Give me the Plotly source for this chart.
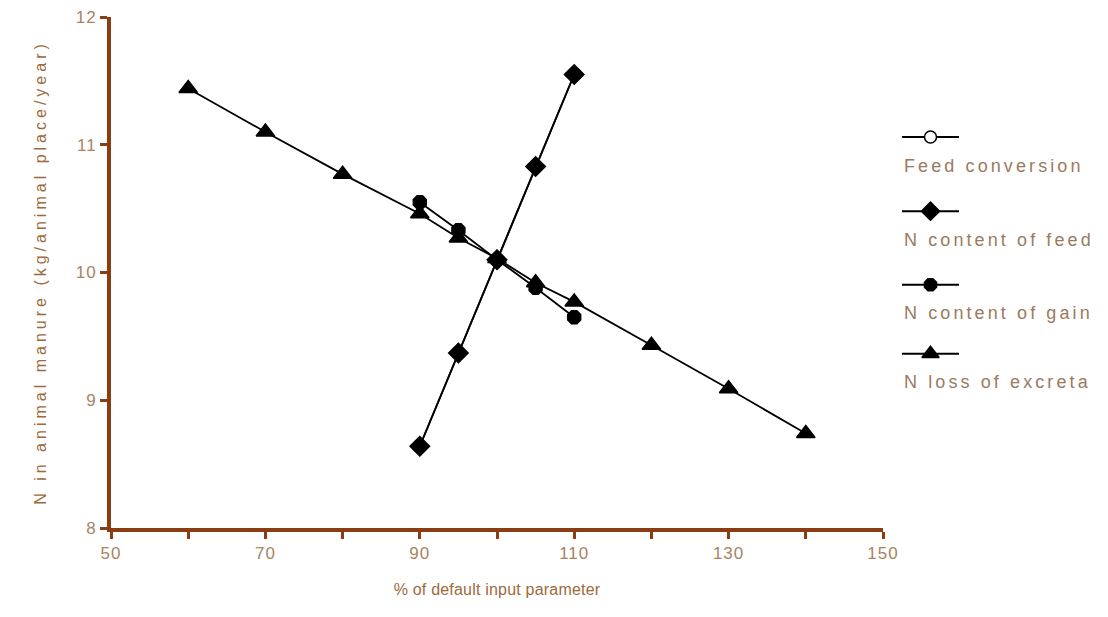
import plotly.graph_objects as go

# ---- data ----
x_short = [90, 95, 100, 105, 110]
feed_conversion = [8.64, 9.37, 10.10, 10.83, 11.55]
n_content_feed = [8.64, 9.37, 10.10, 10.83, 11.55]
n_content_gain = [10.55, 10.33, 10.10, 9.88, 9.65]
x_loss = [60, 70, 80, 90, 95, 100, 105, 110, 120, 130, 140]
n_loss_excreta = [11.44, 11.10, 10.77, 10.46, 10.27, 10.11, 9.92, 9.77, 9.43, 9.09, 8.74]

series_names = ["Feed conversion", "N content of feed", "N content of gain", "N loss of excreta"]
x_ticks = [50, 70, 90, 110, 130, 150]
y_ticks = [8, 9, 10, 11, 12]

AXIS = "#8a3c12"
TICKTXT = "#a98362"
TITLETXT = "#9c6a3c"
LEGTXT = "#9a7a60"
FONT = "Liberation Sans, Arial, sans-serif"


def spaced(text, px):
    return f'<span style="letter-spacing:{px}px">{text}</span>'


symbols = ["circle", "diamond", "octagon", "triangle-up"]
fills = ["white", "black", "black", "black"]
sizes = [13, 15, 14, 16]

fig = go.Figure()
data = [
    (x_short, feed_conversion),
    (x_short, n_content_feed),
    (x_short, n_content_gain),
    (x_loss, n_loss_excreta),
]
for (xs, ys), name, sym, fc, sz in zip(data, series_names, symbols, fills, sizes):
    fig.add_trace(go.Scatter(
        x=xs, y=ys, name=name, mode="lines+markers",
        line=dict(color="black", width=1.8),
        marker=dict(symbol=sym, size=sz, color=fc, line=dict(color="black", width=1.5)),
        showlegend=False, cliponaxis=False,
    ))

# ---- custom legend (symbol above text, as in the reference) ----
leg_rows = [0.765, 0.620, 0.476, 0.341]
for name, sym, fc, sz, ry in zip(series_names, symbols, fills, sizes, leg_rows):
    fig.add_trace(go.Scatter(
        x=[0, 1], y=[ry, ry], mode="lines", line=dict(color="black", width=2),
        xaxis="x2", yaxis="y2", showlegend=False, hoverinfo="skip",
    ))
    fig.add_trace(go.Scatter(
        x=[0.5], y=[ry], mode="markers",
        marker=dict(symbol=sym, size=sz - 1, color=fc, line=dict(color="black", width=1.5)),
        xaxis="x2", yaxis="y2", showlegend=False, hoverinfo="skip",
    ))
    fig.add_annotation(
        x=0.0, y=ry - 0.056, xref="x2", yref="y2", text=spaced(name, 3.1), showarrow=False,
        xanchor="left", yanchor="middle",
        font=dict(family=FONT, size=18, color=LEGTXT),
    )

# figure sits at page offset (8, 8) because of the default body margin
W, H = 1092, 598
L = 103
plot_w = W - L
fig.update_layout(
    width=W, height=H, autosize=False,
    margin=dict(l=L, r=0, t=9, b=78),
    plot_bgcolor="white", paper_bgcolor="white",
    font=dict(family=FONT),
    xaxis=dict(
        domain=[0, 772 / plot_w], range=[50, 150], automargin=False,
        tickvals=x_ticks, ticktext=[spaced(str(v), 1) for v in x_ticks],
        ticks="outside", ticklen=7, tickwidth=3, tickcolor=AXIS,
        minor=dict(dtick=10, ticks="outside", ticklen=7, tickwidth=3, tickcolor=AXIS),
        showline=True, linecolor=AXIS, linewidth=4, showgrid=False, zeroline=False,
        tickfont=dict(size=17, color=TICKTXT), ticklabeloverflow="allow",
        title=dict(text=spaced("% of default input parameter", 0.2), standoff=22,
                   font=dict(size=16, color=TITLETXT)),
    ),
    yaxis=dict(
        range=[8, 12], tickvals=y_ticks, ticktext=[spaced(str(v), 1) for v in y_ticks],
        ticks="outside", ticklen=7, tickwidth=3, automargin=False,
        tickcolor=AXIS, showline=True, linecolor=AXIS, linewidth=4,
        showgrid=False, zeroline=False,
        tickfont=dict(size=17, color=TICKTXT), ticklabeloverflow="allow",
        title=dict(text=spaced("N in animal manure (kg/animal place/year)", 4), standoff=26,
                   font=dict(size=16, color=TITLETXT)),
    ),
    xaxis2=dict(domain=[(894 - L) / plot_w, (951 - L) / plot_w], range=[0, 1],
                visible=False, anchor="y2", automargin=False),
    yaxis2=dict(domain=[0, 1], range=[0, 1], visible=False, anchor="x2", automargin=False),
)

fig.write_html("out.html", config={"responsive": False})
